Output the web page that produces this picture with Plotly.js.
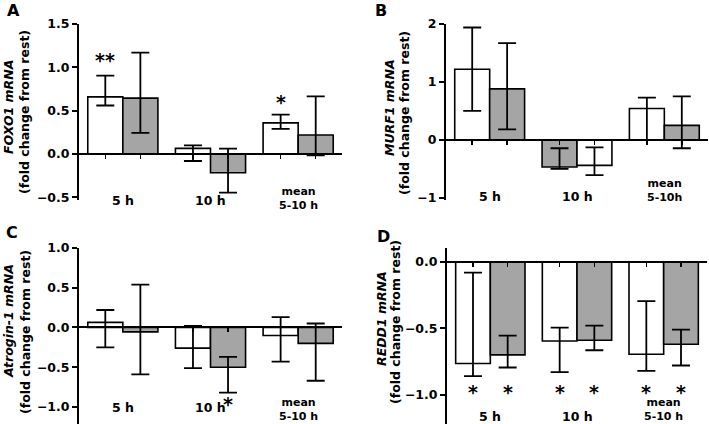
<!DOCTYPE html>
<html><head><meta charset="utf-8">
<script src="https://cdn.plot.ly/plotly-3.0.1.min.js"></script>
<style>html,body{margin:0;padding:0;background:#fff}#chart{width:709px;height:424px}</style>
</head><body><div id="chart"></div>
<script>
// ---------- DATA ----------
const categories = ['5 h', '10 h', 'mean 5-10 h'];
const catLinesA = [['5 h'], ['10 h'], ['mean', '5-10 h']];
const catLinesB = [['5 h'], ['10 h'], ['mean', '5-10h']];
const catLinesC = [['5 h'], ['10 h'], ['mean', '5-10 h']];
const catLinesD = [['5 h'], ['10 h'], ['mean', '5-10 h']];

const panelLetters = ['A', 'B', 'C', 'D'];
const geneNames = ['FOXO1 mRNA', 'MURF1 mRNA', 'Atrogin-1 mRNA', 'REDD1 mRNA'];
const yUnit = '(fold change from rest)';

// Panel A – FOXO1
const aWhite = [0.66, 0.065, 0.36];
const aWhiteHi = [0.905, 0.10, 0.455];
const aWhiteLo = [0.56, -0.08, 0.29];
const aGrey = [0.645, -0.215, 0.22];
const aGreyHi = [1.17, 0.062, 0.665];
const aGreyLo = [0.245, -0.445, -0.015];
const aGreyFirst = [false, false, false];
const aWhiteStars = ['**', '', '*'];
const aWhiteStarY = [1.12, null, 0.63];
const aGreyStars = ['', '', ''];
const aGreyStarY = [null, null, null];
const aTicks = [-0.5, 0, 0.5, 1.0, 1.5];

// Panel B – MURF1
const bWhite = [1.22, -0.44, 0.54];
const bWhiteHi = [1.94, -0.13, 0.73];
const bWhiteLo = [0.50, -0.61, 0.0];
const bGrey = [0.88, -0.47, 0.25];
const bGreyHi = [1.67, -0.145, 0.75];
const bGreyLo = [0.18, -0.50, -0.145];
const bGreyFirst = [false, true, false];
const bWhiteStars = ['', '', ''];
const bWhiteStarY = [null, null, null];
const bGreyStars = ['', '', ''];
const bGreyStarY = [null, null, null];
const bTicks = [-1, 0, 1, 2];

// Panel C – Atrogin-1
const cWhite = [0.065, -0.26, -0.10];
const cWhiteHi = [0.22, 0.02, 0.13];
const cWhiteLo = [-0.25, -0.51, -0.43];
const cGrey = [-0.055, -0.50, -0.20];
const cGreyHi = [0.54, -0.37, 0.05];
const cGreyLo = [-0.59, -0.82, -0.67];
const cGreyFirst = [false, false, false];
const cWhiteStars = ['', '', ''];
const cWhiteStarY = [null, null, null];
const cGreyStars = ['', '*', ''];
const cGreyStarY = [null, -0.92, null];
const cTicks = [-1.0, -0.5, 0, 0.5, 1.0];

// Panel D – REDD1
const dWhite = [-0.765, -0.595, -0.695];
const dWhiteHi = [-0.08, -0.495, -0.295];
const dWhiteLo = [-0.86, -0.83, -0.82];
const dGrey = [-0.70, -0.59, -0.62];
const dGreyHi = [-0.555, -0.48, -0.51];
const dGreyLo = [-0.795, -0.665, -0.78];
const dGreyFirst = [false, false, false];
const dWhiteStars = ['*', '*', '*'];
const dWhiteStarY = [-0.96, -0.96, -0.96];
const dGreyStars = ['*', '*', '*'];
const dGreyStarY = [-0.96, -0.96, -0.96];
const dTicks = [-1.0, -0.5, 0];

// ---------- STYLE / LAYOUT ----------
const W = 709, H = 424;
const FONT = 'DejaVu Sans, Arial, sans-serif';
const WHITE = '#ffffff', GREY = '#a5a5a5';

const panels = [
  {white:[aWhite,aWhiteHi,aWhiteLo], grey:[aGrey,aGreyHi,aGreyLo], greyFirst:aGreyFirst,
   ws:[aWhiteStars,aWhiteStarY], gs:[aGreyStars,aGreyStarY], ticks:aTicks, fmt:'.1f', lines:catLinesA,
   xpx:[79,342], ypx:[24,200], range:[-0.53,1.5], single:200, two:198,
   letter:[13,10], t1:[8,107], t2:[25,112]},
  {white:[bWhite,bWhiteHi,bWhiteLo], grey:[bGrey,bGreyHi,bGreyLo], greyFirst:bGreyFirst,
   ws:[bWhiteStars,bWhiteStarY], gs:[bGreyStars,bGreyStarY], ticks:bTicks, fmt:'d', lines:catLinesB,
   xpx:[446,708], ypx:[24,199.5], range:[-1.03,2], single:196, two:190,
   letter:[381,10], t1:[389,108], t2:[404,113]},
  {white:[cWhite,cWhiteHi,cWhiteLo], grey:[cGrey,cGreyHi,cGreyLo], greyFirst:cGreyFirst,
   ws:[cWhiteStars,cWhiteStarY], gs:[cGreyStars,cGreyStarY], ticks:cTicks, fmt:'.1f', lines:catLinesC,
   xpx:[79,342], ypx:[248,424], range:[-1.214,1.0], single:407, two:409,
   letter:[12,232], t1:[8,321], t2:[25,332]},
  {white:[dWhite,dWhiteHi,dWhiteLo], grey:[dGrey,dGreyHi,dGreyLo], greyFirst:dGreyFirst,
   ws:[dWhiteStars,dWhiteStarY], gs:[dGreyStars,dGreyStarY], ticks:dTicks, fmt:'.1f', lines:catLinesD,
   xpx:[447,707], ypx:[248,424], range:[-1.221,0.1055], single:416, two:409.5,
   letter:[383,236], t1:[381,319], t2:[395,322]}
];

const traces = [];
const layout = {
  width: W, height: H, margin: {l:0, r:0, t:0, b:0},
  paper_bgcolor: '#fff', plot_bgcolor: 'rgba(0,0,0,0)',
  showlegend: false, barmode: 'group', bargap: 0.2, bargroupgap: 0,
  font: {family: FONT, color: '#000'},
  annotations: []
};
const px2x = v => v / W;
const px2y = v => 1 - v / H;

panels.forEach((p, k) => {
  const sfx = k === 0 ? '' : String(k + 1);
  const xa = 'x' + sfx, ya = 'y' + sfx;
  const idx = categories.map((_, i) => i);
  const left = {v:[],hi:[],lo:[],c:[],st:[],sy:[]}, right = {v:[],hi:[],lo:[],c:[],st:[],sy:[]};
  idx.forEach(i => {
    const W_ = {v:p.white[0][i],hi:p.white[1][i],lo:p.white[2][i],c:WHITE,st:p.ws[0][i],sy:p.ws[1][i]};
    const G_ = {v:p.grey[0][i],hi:p.grey[1][i],lo:p.grey[2][i],c:GREY,st:p.gs[0][i],sy:p.gs[1][i]};
    const [L, R] = p.greyFirst[i] ? [G_, W_] : [W_, G_];
    for (const key of Object.keys(left)) { left[key].push(L[key]); right[key].push(R[key]); }
  });
  [left, right].forEach(s => {
    traces.push({
      type: 'bar', x: idx, y: s.v, xaxis: xa, yaxis: ya,
      marker: {color: s.c, line: {color: '#000', width: 1.6}},
      error_y: {type: 'data', symmetric: false,
        array: s.hi.map((h, i) => h - s.v[i]),
        arrayminus: s.lo.map((l, i) => s.v[i] - l),
        color: '#000', thickness: 1.8, width: 9},
      hoverinfo: 'skip'
    });
  });
  const [ymin, ymax] = p.range;
  const zeroPx = p.ypx[0] + (ymax / (ymax - ymin)) * (p.ypx[1] - p.ypx[0]);
  const barCenters = [];
  idx.forEach(i => { barCenters.push(i - 0.2, i + 0.2); });
  layout['xaxis' + sfx] = {
    domain: [px2x(p.xpx[0]), px2x(p.xpx[1])], range: [-0.5, 2.5],
    anchor: 'free', position: px2y(zeroPx),
    showline: true, linecolor: '#000', linewidth: 2,
    ticks: 'outside', ticklen: 4, tickwidth: 1.5, tickcolor: '#000',
    tickmode: 'array', tickvals: barCenters, showticklabels: false,
    showgrid: false, zeroline: false, fixedrange: true
  };
  layout['yaxis' + sfx] = {
    domain: [px2y(p.ypx[1]), px2y(p.ypx[0])], range: p.range, anchor: xa,
    showline: true, linecolor: '#000', linewidth: 2,
    ticks: 'outside', ticklen: 5, tickwidth: 2, tickcolor: '#000',
    tickmode: 'array', tickvals: p.ticks, tickformat: p.fmt,
    tickfont: {family: FONT, size: 12.5, weight: 'bold', color: '#000'},
    showgrid: false, zeroline: false, fixedrange: true
  };
  // category labels
  p.lines.forEach((lines, i) => {
    const two = lines.length > 1;
    layout.annotations.push({xref: xa, yref: 'paper', x: i, y: px2y(two ? p.two : p.single),
      text: lines.join('<br>'), showarrow: false, xanchor: 'center', yanchor: 'middle',
      font: {family: FONT, size: two ? 11 : 12.5, weight: 'bold', color: '#000'}});
  });
  // stars
  [[left, -0.2], [right, 0.2]].forEach(([s, off]) => {
    s.st.forEach((t, i) => {
      if (!t) return;
      layout.annotations.push({xref: xa, yref: ya, x: i + off, y: s.sy[i], text: t,
        showarrow: false, xanchor: 'center', yanchor: 'middle', yshift: -3,
        font: {family: FONT, size: 19, weight: 'bold', color: '#000'}});
    });
  });
  // panel letter
  layout.annotations.push({xref: 'paper', yref: 'paper', x: px2x(p.letter[0]), y: px2y(p.letter[1]),
    text: panelLetters[k], showarrow: false, xanchor: 'center', yanchor: 'middle',
    font: {family: FONT, size: 16, weight: 'bold', color: '#000'}});
  // y titles
  layout.annotations.push({xref: 'paper', yref: 'paper', x: px2x(p.t1[0]), y: px2y(p.t1[1]),
    text: '<i>' + geneNames[k] + '</i>', textangle: -90, showarrow: false,
    xanchor: 'center', yanchor: 'middle',
    font: {family: FONT, size: 12.5, weight: 'bold', color: '#000'}});
  layout.annotations.push({xref: 'paper', yref: 'paper', x: px2x(p.t2[0]), y: px2y(p.t2[1]),
    text: yUnit, textangle: -90, showarrow: false,
    xanchor: 'center', yanchor: 'middle',
    font: {family: FONT, size: 12.5, weight: 'bold', color: '#000'}});
});

Plotly.newPlot('chart', traces, layout, {staticPlot: true, displayModeBar: false});
</script></body></html>
